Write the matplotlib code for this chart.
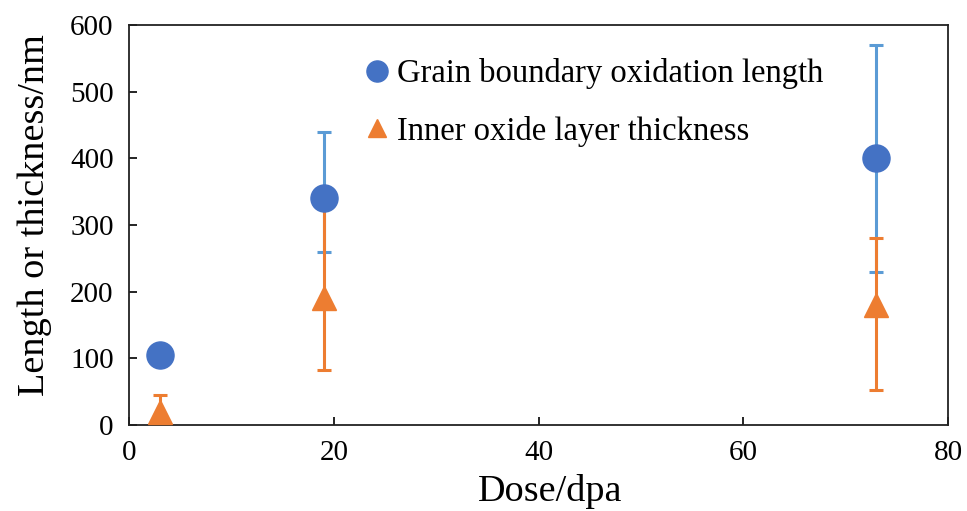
import numpy as np
import matplotlib.pyplot as plt

plt.rcParams['font.family'] = ['Liberation Serif', 'DejaVu Serif']

# Grain boundary oxidation length
doseGb = [3, 19, 73]
lenGb = [105, 340, 400]
errGbLow = [10, 80, 170]
errGbHigh = [10, 100, 170]

# Inner oxide layer thickness
doseIox = [3, 19, 73]
thickIox = [20, 190, 180]
errIoxLow = [25, 107, 127]
errIoxHigh = [25, 140, 100]

fig = plt.figure(figsize=(9.67, 5.11), dpi=100)
ax = fig.add_axes([0.1334, 0.1683, 0.847, 0.7827])

# orange bars sit over the blue ones, markers on top of all bars
ax.errorbar(doseGb, lenGb, yerr=[errGbLow, errGbHigh], fmt='none',
            ecolor='#5B9BD5', elinewidth=2.2, capsize=4.8, capthick=2.2, zorder=2)
ax.errorbar(doseIox, thickIox, yerr=[errIoxLow, errIoxHigh], fmt='none',
            ecolor='#ED7D31', elinewidth=2.2, capsize=4.8, capthick=2.2, zorder=3)
ax.plot(doseIox, thickIox, '^', color='#ED7D31', markersize=17.5,
        label='Inner oxide layer thickness', zorder=4)
ax.plot(doseGb, lenGb, 'o', color='#4472C4', markersize=19.5,
        label='Grain boundary oxidation length', zorder=5)

ax.set_xlim(0, 80)
ax.set_ylim(0, 600)
ax.set_xticks(np.arange(0, 81, 20))
ax.set_yticks(np.arange(0, 601, 100))
ax.tick_params(labelsize=21, width=1.2, length=6, direction='in', pad=11)
for s in ax.spines.values():
    s.set_linewidth(1.3)
    s.set_color('#222222')

ax.set_xlabel('Dose/dpa', fontsize=27.5)
ax.set_ylabel('Length or thickness/nm', fontsize=27.5)
ax.xaxis.set_label_coords(0.514, -0.122)
ax.yaxis.set_label_coords(-0.094, 0.525)

handles, labels = ax.get_legend_handles_labels()
ax.legend(handles[::-1], labels[::-1], loc='upper left', bbox_to_anchor=(0.247, 0.99),
          frameon=False, fontsize=23.5, handletextpad=0.1, labelspacing=0.8,
          handlelength=1.0, markerscale=0.78)

fig.savefig('out.png', dpi=100)
